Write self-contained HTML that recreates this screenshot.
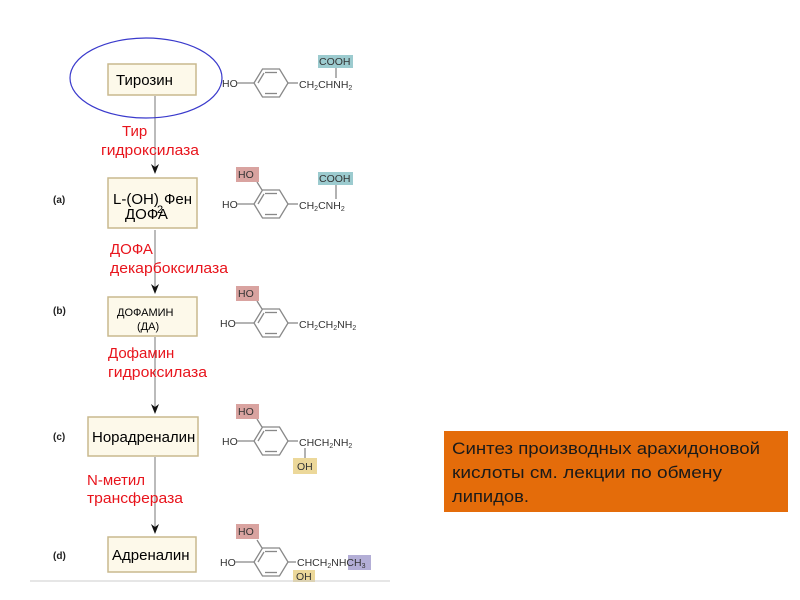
<!DOCTYPE html>
<html><head><meta charset="utf-8"><style>
html,body{margin:0;padding:0;background:#fff;width:800px;height:600px;overflow:hidden}
svg{display:block}
text{font-family:"Liberation Sans",sans-serif}
.red{fill:#e8141c;font-size:15px}
.box{fill:#fdf9ea;stroke:#c9b98e;stroke-width:1.5}
.lbl{font-size:10px;font-weight:bold;fill:#222}
.chem{font-size:10.5px;fill:#333}
.ring{fill:none;stroke:#888;stroke-width:1.3}
</style></head><body>
<svg width="800" height="600" viewBox="0 0 800 600">
<defs>
<g id="ring">
<polygon class="ring" points="-17,0 -8.5,-14 8.5,-14 17,0 8.5,14 -8.5,14"/>
<line class="ring" x1="-6" y1="-10.5" x2="6" y2="-10.5"/>
<line class="ring" x1="-6" y1="10.5" x2="6" y2="10.5"/>
<line class="ring" x1="-13" y1="0" x2="-7" y2="-10"/>
</g>
<path id="ah" d="M-4,-10 L0,0 L4,-10 L0,-7 Z" fill="#111"/>
</defs>

<!-- arrows -->
<g stroke="#777" stroke-width="1">
<line x1="155" y1="96" x2="155" y2="172"/>
<line x1="155" y1="230" x2="155" y2="292"/>
<line x1="155" y1="337" x2="155" y2="412"/>
<line x1="155" y1="457" x2="155" y2="532"/>
</g>
<use href="#ah" x="155" y="174"/>
<use href="#ah" x="155" y="294"/>
<use href="#ah" x="155" y="414"/>
<use href="#ah" x="155" y="534"/>

<!-- boxes -->
<rect class="box" x="108" y="64" width="88" height="31"/>
<text x="116" y="85" font-size="15">Тирозин</text>
<ellipse cx="146" cy="78" rx="76" ry="40" fill="none" stroke="#3a3acc" stroke-width="1.2"/>

<rect class="box" x="108" y="178" width="89" height="50"/>
<text x="113" y="204" font-size="15">L-(OH)</text><text x="157" y="213" font-size="11">2</text><text x="164" y="204" font-size="15">Фен</text>
<text x="125" y="219" font-size="15">ДОФА</text>

<rect class="box" x="108" y="297" width="89" height="39"/>
<text x="117" y="316" font-size="11">ДОФАМИН</text>
<text x="137" y="330" font-size="11">(ДА)</text>

<rect class="box" x="88" y="417" width="110" height="39"/>
<text x="92" y="442" font-size="15">Норадреналин</text>

<rect class="box" x="108" y="537" width="88" height="35"/>
<text x="112" y="560" font-size="15">Адреналин</text>

<!-- labels -->
<text class="lbl" x="53" y="203">(a)</text>
<text class="lbl" x="53" y="314">(b)</text>
<text class="lbl" x="53" y="440">(c)</text>
<text class="lbl" x="53" y="559">(d)</text>

<text class="red" x="122" y="136">Тир</text>
<text class="red" x="101" y="155" textLength="98" lengthAdjust="spacingAndGlyphs">гидроксилаза</text>
<text class="red" x="110" y="254">ДОФА</text>
<text class="red" x="110" y="273" textLength="118" lengthAdjust="spacingAndGlyphs">декарбоксилаза</text>
<text class="red" x="108" y="358">Дофамин</text>
<text class="red" x="108" y="377" textLength="99" lengthAdjust="spacingAndGlyphs">гидроксилаза</text>
<text class="red" x="87" y="485">N-метил</text>
<text class="red" x="87" y="503" textLength="96" lengthAdjust="spacingAndGlyphs">трансфераза</text>

<!-- structure 1 -->
<text class="chem" x="222" y="87">HO</text>
<line class="ring" x1="237" y1="83" x2="254" y2="83"/>
<use href="#ring" x="271" y="83"/>
<line class="ring" x1="288" y1="83" x2="298" y2="83"/>
<text class="chem" x="299" y="88">CH<tspan font-size="7" dy="2">2</tspan><tspan dy="-2">CHNH</tspan><tspan font-size="7" dy="2">2</tspan></text>
<rect x="318" y="55" width="35" height="13" fill="#9ccbcf"/>
<text class="chem" x="319" y="65">COOH</text>
<line class="ring" x1="336" y1="68" x2="336" y2="78"/>

<!-- structure 2 -->
<text class="chem" x="222" y="208">HO</text>
<line class="ring" x1="237" y1="204" x2="254" y2="204"/>
<use href="#ring" x="271" y="204"/>
<line class="ring" x1="262" y1="190" x2="257" y2="182"/>
<rect x="236" y="167" width="23" height="15" fill="#d9a3a0"/>
<text class="chem" x="238" y="178">HO</text>
<line class="ring" x1="288" y1="204" x2="298" y2="204"/>
<text class="chem" x="299" y="209">CH<tspan font-size="7" dy="2">2</tspan><tspan dy="-2">CNH</tspan><tspan font-size="7" dy="2">2</tspan></text>
<rect x="318" y="172" width="35" height="13" fill="#9ccbcf"/>
<text class="chem" x="319" y="182">COOH</text>
<line class="ring" x1="336" y1="185" x2="336" y2="199"/>

<!-- structure 3 -->
<text class="chem" x="220" y="327">HO</text>
<line class="ring" x1="235" y1="323" x2="254" y2="323"/>
<use href="#ring" x="271" y="323"/>
<line class="ring" x1="262" y1="309" x2="257" y2="301"/>
<rect x="236" y="286" width="23" height="15" fill="#d9a3a0"/>
<text class="chem" x="238" y="297">HO</text>
<line class="ring" x1="288" y1="323" x2="298" y2="323"/>
<text class="chem" x="299" y="328">CH<tspan font-size="7" dy="2">2</tspan><tspan dy="-2">CH</tspan><tspan font-size="7" dy="2">2</tspan><tspan dy="-2">NH</tspan><tspan font-size="7" dy="2">2</tspan></text>

<!-- structure 4 -->
<text class="chem" x="222" y="445">HO</text>
<line class="ring" x1="237" y1="441" x2="254" y2="441"/>
<use href="#ring" x="271" y="441"/>
<line class="ring" x1="262" y1="427" x2="257" y2="419"/>
<rect x="236" y="404" width="23" height="15" fill="#d9a3a0"/>
<text class="chem" x="238" y="415">HO</text>
<line class="ring" x1="288" y1="441" x2="298" y2="441"/>
<text class="chem" x="299" y="446">CHCH<tspan font-size="7" dy="2">2</tspan><tspan dy="-2">NH</tspan><tspan font-size="7" dy="2">2</tspan></text>
<line class="ring" x1="305" y1="448" x2="305" y2="458"/>
<rect x="293" y="458" width="24" height="16" fill="#ecd89a"/>
<text class="chem" x="297" y="470">OH</text>

<!-- structure 5 -->
<text class="chem" x="220" y="566">HO</text>
<line class="ring" x1="235" y1="562" x2="254" y2="562"/>
<use href="#ring" x="271" y="562"/>
<line class="ring" x1="262" y1="548" x2="257" y2="540"/>
<rect x="236" y="524" width="23" height="15" fill="#d9a3a0"/>
<text class="chem" x="238" y="535">HO</text>
<line class="ring" x1="288" y1="562" x2="296" y2="562"/>
<rect x="348" y="555" width="23" height="15" fill="#b3aed6"/>
<text class="chem" x="297" y="566">CHCH<tspan font-size="7" dy="2">2</tspan><tspan dy="-2">NHCH</tspan><tspan font-size="7" dy="2">3</tspan></text>
<rect x="293" y="570" width="22" height="12" fill="#ecd89a"/>
<text class="chem" x="296" y="580">OH</text>

<line x1="30" y1="581" x2="390" y2="581" stroke="#ccc" stroke-width="1"/>

<!-- orange box -->
<rect x="444" y="431" width="344" height="81" fill="#e46c0a"/>
<text x="452" y="454" font-size="17" fill="#1a1a1a" textLength="308" lengthAdjust="spacingAndGlyphs">Синтез производных арахидоновой</text>
<text x="452" y="478" font-size="17" fill="#1a1a1a" textLength="270" lengthAdjust="spacingAndGlyphs">кислоты  см. лекции по обмену</text>
<text x="452" y="502" font-size="17" fill="#1a1a1a" textLength="77" lengthAdjust="spacingAndGlyphs">липидов.</text>
</svg>
</body></html>
